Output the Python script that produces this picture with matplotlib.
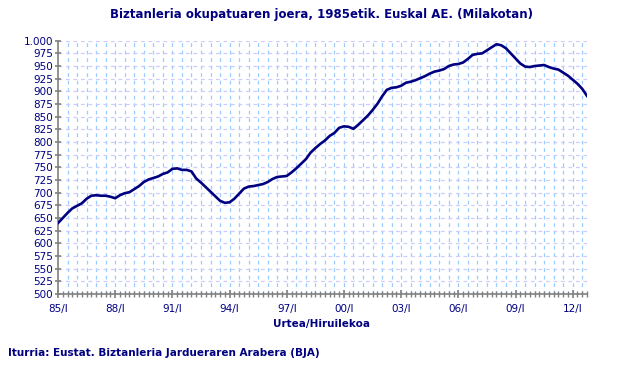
import matplotlib
matplotlib.use('Agg')
import matplotlib.pyplot as plt
from matplotlib.ticker import FuncFormatter, MultipleLocator

# Quarterly data 1985/I .. 2012/IV (thousands)
employed = [
    640, 650, 660, 669, 674, 679, 688, 694,
    695, 694, 694, 692, 689, 695, 699, 701,
    707, 713, 721, 726, 729, 732, 737, 740,
    747, 748, 745, 745, 742, 728, 720, 711,
    702, 693, 684, 680, 681, 688, 698, 708,
    712, 713, 715, 717, 721, 727, 731, 732,
    733, 740, 748, 757, 766, 779, 788, 796,
    803, 812, 818, 828, 831, 830, 826, 834,
    843, 852, 863, 875, 890, 903, 907, 908,
    911, 917, 919, 922, 926, 930, 935, 939,
    941, 944, 950, 953, 954, 957, 964, 972,
    974, 975, 981, 987, 993, 991, 985, 975,
    965, 955, 949, 948, 950, 951, 952, 948,
    945, 943, 937, 931, 923, 915, 905, 891,
]
year_labels = ['85/I', '88/I', '91/I', '94/I', '97/I', '00/I', '03/I', '06/I', '09/I', '12/I']

navy = '#000080'
plt.rcParams['font.family'] = 'DejaVu Sans'

fig = plt.figure(figsize=(6.43, 3.70), dpi=100)
ax = fig.add_axes([0.0902, 0.2054, 0.8227, 0.6846])

x = list(range(len(employed)))
ax.plot(x, employed, color=navy, linewidth=1.9, solid_joinstyle='round', zorder=3)

ax.set_xlim(0, len(employed) - 1)
ax.set_ylim(500, 1000)

# grid
for q in range(2, len(employed), 2):
    ax.axvline(q, color='#99CCFF', linewidth=0.9, linestyle=(0, (3, 3)), zorder=1)
for v in range(525, 1001, 25):
    ax.axhline(v, color='#CCCCFF', linewidth=0.9, linestyle=(0, (3, 3)), zorder=1)

ax.set_xticks(range(0, len(employed), 12))
ax.set_xticklabels(year_labels)
ax.xaxis.set_minor_locator(MultipleLocator(1))
ax.yaxis.set_major_locator(MultipleLocator(25))
ax.yaxis.set_major_formatter(FuncFormatter(lambda v, p: f'{int(v):,}'.replace(',', '.')))

for s in ['top', 'right']:
    ax.spines[s].set_visible(False)
for s in ['left', 'bottom']:
    ax.spines[s].set_color('#808080')
    ax.spines[s].set_linewidth(1.2)

ax.tick_params(axis='y', colors='#808080', labelcolor=navy, labelsize=7.5, length=5,
               direction='inout', width=1.2, pad=1)
ax.tick_params(axis='x', which='major', colors='#808080', labelcolor=navy, labelsize=7.5,
               length=6, direction='inout', width=1.2, pad=4)
ax.tick_params(axis='x', which='minor', colors='#808080', length=5, direction='inout', width=1)

fig.text(0.5, 0.962, 'Biztanleria okupatuaren joera, 1985etik. Euskal AE. (Milakotan)',
         ha='center', va='center', color=navy, fontsize=8.5, fontweight='bold')
fig.text(0.5, 0.125, 'Urtea/Hiruilekoa', ha='center', va='center', color=navy,
         fontsize=7.5, fontweight='bold')
fig.text(0.012, 0.046, 'Iturria: Eustat. Biztanleria Jardueraren Arabera (BJA)',
         ha='left', va='center', color=navy, fontsize=7.5, fontweight='bold')

fig.savefig('out.png', dpi=100)
